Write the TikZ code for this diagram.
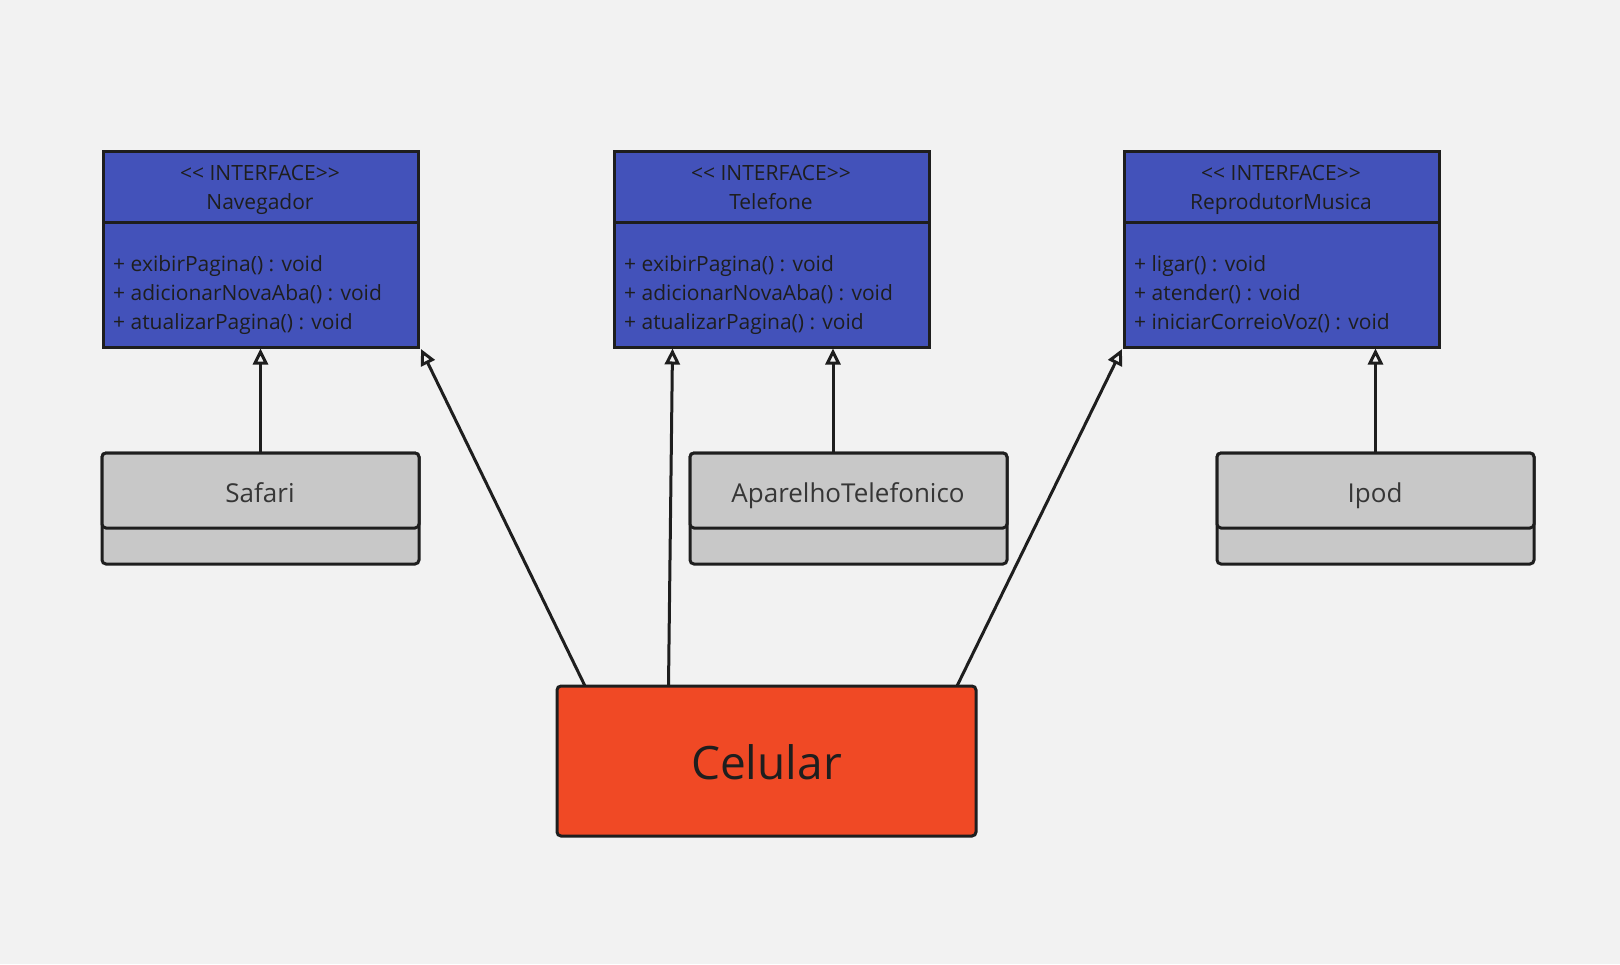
\documentclass[tikz,border=0pt]{standalone}
\usepackage{fontspec}
\setmainfont{Open Sans}
\usetikzlibrary{arrows.meta,calc}
\definecolor{bg}{HTML}{F2F2F2}
\definecolor{ifblue}{HTML}{4352BA}
\definecolor{gbox}{HTML}{C8C8C8}
\definecolor{cred}{HTML}{F04925}
\definecolor{ink}{HTML}{1E1E1E}
\definecolor{gtext}{HTML}{363636}
\newcommand{\stereo}{{<}{<} INTERFACE{>}{>}}
\tikzset{
  boxbase/.style={draw=ink, line width=3pt, inner sep=0pt, outer sep=0pt, anchor=north west},
  ifhead/.style={boxbase, fill=ifblue, minimum width=315pt, minimum height=71pt},
  ifbody/.style={boxbase, fill=ifblue, minimum width=315pt, minimum height=125pt},
  clsbox/.style={boxbase, fill=gbox, rounded corners=4pt, minimum width=317pt},
  headtxt/.style={font=\fontsize{21}{29}\selectfont, text=ink, align=center, inner sep=0pt},
  methtxt/.style={font=\fontsize{21}{29}\selectfont, text=ink, align=left, anchor=west, inner sep=0pt},
  clstxt/.style={font=\fontsize{26}{30}\selectfont, text=gtext, anchor=base, inner sep=0pt},
  realize/.style={draw=ink, line width=3pt, -{Triangle[open, length=16pt, width=15pt, line width=3pt]}}
}
\begin{document}
\begin{tikzpicture}[x=1pt,y=-1pt]
\fill[bg] (0,0) rectangle (1620,964);
\useasboundingbox (0,0) rectangle (1620,964);

% Interfaces
\node[ifbody] (navB) at (103,222) {};
\node[ifhead] (navH) at (103,151) {};
\node[headtxt] (navT) at (260,189.5) {\strut\stereo\\\strut Navegador};
\node[methtxt] (navM) at (113,295) {\strut+ exibirPagina() : void\\\strut+ adicionarNovaAba() : void\\\strut+ atualizarPagina() : void};

\node[ifbody] (telB) at (614,222) {};
\node[ifhead] (telH) at (614,151) {};
\node[headtxt] (telT) at (771,189.5) {\strut\stereo\\\strut Telefone};
\node[methtxt] (telM) at (624,295) {\strut+ exibirPagina() : void\\\strut+ adicionarNovaAba() : void\\\strut+ atualizarPagina() : void};

\node[ifbody] (repB) at (1124,222) {};
\node[ifhead] (repH) at (1124,151) {};
\node[headtxt] (repT) at (1281,189.5) {\strut\stereo\\\strut ReprodutorMusica};
\node[methtxt] (repM) at (1134,295) {\strut+ ligar() : void\\\strut+ atender() : void\\\strut+ iniciarCorreioVoz() : void};

% Classes
\node[clsbox, minimum height=111pt] (safB) at (102,453) {};
\node[clsbox, minimum height=75pt] (safH) at (102,453) {};
\node[clstxt] (safT) at (260,502) {Safari};

\node[clsbox, minimum height=111pt] (apaB) at (690,453) {};
\node[clsbox, minimum height=75pt] (apaH) at (690,453) {};
\node[clstxt] (apaT) at (848,502) {AparelhoTelefonico};

\node[clsbox, minimum height=111pt] (ipoB) at (1217,453) {};
\node[clsbox, minimum height=75pt] (ipoH) at (1217,453) {};
\node[clstxt] (ipoT) at (1375,502) {Ipod};

% Celular
\node[boxbase, fill=cred, rounded corners=4pt, minimum width=419pt, minimum height=150pt] (cel) at (557,686) {};
\node[font=\fontsize{46}{50}\selectfont, text=ink] (celT) at ($(cel.center)+(0,1)$) {Celular};

% Connectors
\coordinate (c1) at (585,686);
\coordinate (c2) at (668.5,686);
\coordinate (c3) at (957,686);
\coordinate (navTip) at (421,349);
\coordinate (telTip) at (672.5,348.5);
\coordinate (apaTop) at (833,453);
\coordinate (apaTip) at (833,348.5);
\coordinate (repTip) at (1122,349);

\draw[realize] (safH.north) -- ($(navB.south)+(0,1.5)$);
\draw[realize] (apaTop) -- (apaTip);
\draw[realize] (ipoH.north) -- ($(ipoH.north |- repB.south)+(0,1.5)$);
\draw[realize] (c1) -- (navTip);
\draw[realize] (c2) -- (telTip);
\draw[realize] (c3) -- (repTip);
\end{tikzpicture}
\end{document}
